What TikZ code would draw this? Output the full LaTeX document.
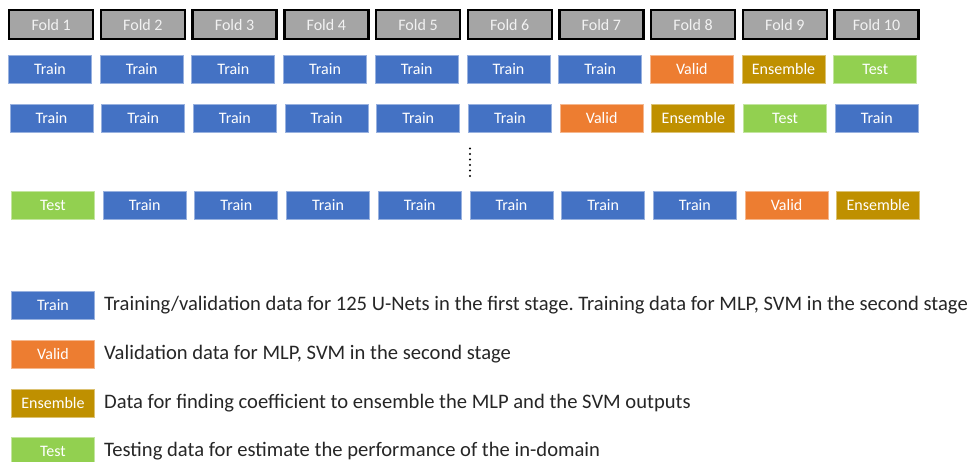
\documentclass[tikz,border=0pt]{standalone}
\usepackage{fontspec}
\setmainfont{Carlito}
\frenchspacing
\definecolor{trainc}{HTML}{4472C4}
\definecolor{validc}{HTML}{ED7D31}
\definecolor{ensc}{HTML}{BF9000}
\definecolor{testc}{HTML}{92D050}
\definecolor{foldc}{HTML}{A5A5A5}
\begin{document}
\begin{tikzpicture}[x=1pt,y=-1pt,
  box/.style={minimum width=83pt,minimum height=28pt,inner sep=0pt,anchor=north west,
    text=white,font=\fontsize{16}{18}\selectfont,line width=0.9pt},
  foldbox/.style={box,minimum width=84pt,minimum height=29pt,fill=foldc,draw=black,line width=2.4pt,text=white!95!black},
  train/.style={box,fill=trainc,draw=trainc!55!white},
  valid/.style={box,fill=validc,draw=validc!55!white},
  ens/.style={box,fill=ensc,draw=ensc!55!white},
  test/.style={box,fill=testc,draw=testc!55!white},
  legtext/.style={anchor=west,inner sep=0pt,font=\fontsize{20.6}{24}\selectfont,text=black!85}]
\useasboundingbox (0,0) rectangle (975,461);
% fold headers
\foreach \i in {1,...,10}{
  \node[foldbox] (f\i) at ({8+(\i-1)*91.7},9) {Fold \i};
}
% row 1
\foreach \i/\s/\t in {1/train/Train,2/train/Train,3/train/Train,4/train/Train,5/train/Train,6/train/Train,7/train/Train,8/valid/Valid,9/ens/Ensemble,10/test/Test}{
  \node[\s] (a\i) at ({8+(\i-1)*91.7},55) {\t};
}
% row 2
\foreach \i/\s/\t in {1/train/Train,2/train/Train,3/train/Train,4/train/Train,5/train/Train,6/train/Train,7/valid/Valid,8/ens/Ensemble,9/test/Test,10/train/Train}{
  \node[\s] (b\i) at ({9.5+(\i-1)*91.7},104) {\t};
}
% last row
\foreach \i/\s/\t in {1/test/Test,2/train/Train,3/train/Train,4/train/Train,5/train/Train,6/train/Train,7/train/Train,8/train/Train,9/valid/Valid,10/ens/Ensemble}{
  \node[\s] (c\i) at ({11+(\i-1)*91.7},191) {\t};
}
% vertical dots
\coordinate (d1) at (470,148.5);
\coordinate (d2) at (470,176);
\draw[line width=2.2pt,line cap=round,dash pattern=on 0pt off 5.5pt] (d1) -- (d2);
% legend
\node[train] (lt) at (11,291) {Train};
\node[valid] (lv) at (11,340) {Valid};
\node[ens] (le) at (11,389) {Ensemble};
\node[test] (ls) at (11,437) {Test};
\node[legtext] (tt) at (104,305) {Training/validation data for 125 U-Nets in the first stage. Training data for MLP, SVM in the second stage};
\node[legtext] (tv) at (104,354) {Validation data for MLP, SVM in the second stage};
\node[legtext] (te) at (104,403) {Data for finding coefficient to ensemble the MLP and the SVM outputs};
\node[legtext] (ts) at (104,451) {Testing data for estimate the performance of the in-domain};
\end{tikzpicture}
\end{document}
